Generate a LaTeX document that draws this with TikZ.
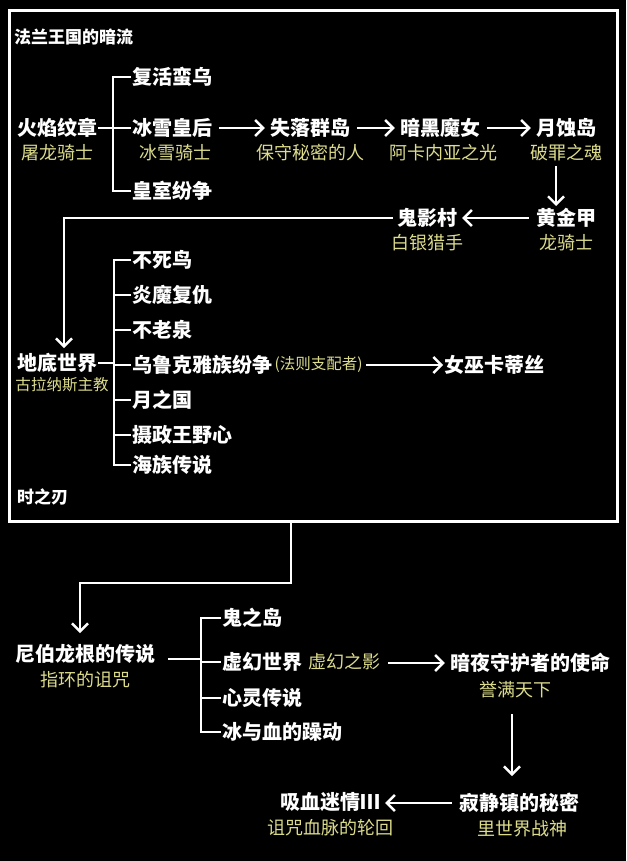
\documentclass[tikz,border=0pt]{standalone}
\usepackage{fontspec}
\setmainfont{Noto Sans CJK SC}
\usetikzlibrary{arrows.meta}
\definecolor{sub}{HTML}{DCDC8C}
\begin{document}
\begin{tikzpicture}[x=1pt,y=-1pt,
  m/.style={text=white,font=\fontsize{20}{22}\selectfont\bfseries,inner sep=1pt},
  ml/.style={m,anchor=west},
  s/.style={text=sub,font=\fontsize{18}{20}\selectfont,inner sep=1pt},
  ss/.style={text=sub,font=\fontsize{15.5}{17}\selectfont,inner sep=1pt},
  t/.style={text=white,font=\fontsize{17}{19}\selectfont\bfseries,anchor=west,inner sep=0pt},
  ln/.style={white,line width=2.4pt},
  ar/.style={ln,-{Straight Barb[length=8pt,width=16pt]}}]
\fill[black] (0,0) rectangle (626,861);
\useasboundingbox (0,0) rectangle (626,861);
\draw[white,line width=3pt] (9,11) rectangle (617,521);
\node[t] (title) at (14,37) {法兰王国的暗流};
\node[t] (blade) at (17,497) {时之刃};
% row 1
\node[m] (a) at (57,128) {火焰纹章};
\node[s] (as) at (57,153) {屠龙骑士};
\node[ml] (b1) at (131,77) {复活蛮乌};
\node[ml] (b2) at (131,128) {冰雪皇后};
\node[s] (b2s) at (175,153) {冰雪骑士};
\node[ml] (b3) at (131,191) {皇室纷争};
\coordinate (k1) at (113,128);
\draw[ln] (a.east) -- (k1);
\draw[ln] (b1.west) -- (113,77) -- (113,191) -- (b3.west);
\draw[ln] (k1) -- (b2.west);
\node[m] (c) at (310,128) {失落群岛};
\node[s] (cs) at (310,153) {保守秘密的人};
\node[m] (d) at (440,128) {暗黑魔女};
\node[s] (ds) at (443,153) {阿卡内亚之光};
\node[m] (e) at (566,128) {月蚀岛};
\node[s] (es) at (566,153) {破罪之魂};
\draw[ar] (b2.east)+(6,0) -- ([xshift=-4pt]c.west);
\draw[ar] (c.east)+(6,0) -- ([xshift=-4pt]d.west);
\draw[ar] (d.east)+(6,0) -- ([xshift=-4pt]e.west);
\node[m] (f) at (566,218) {黄金甲};
\node[s] (fs) at (566,243) {龙骑士};
\draw[ar] (556,166) -- (556,206);
\node[m] (g) at (427,218) {鬼影村};
\node[s] (gs) at (427,243) {白银猎手};
\draw[ar] ([xshift=-6pt]f.west) -- ([xshift=4pt]g.east);
\node[m] (h) at (57,363) {地底世界};
\node[ss] (hs) at (62,385) {古拉纳斯主教};
\draw[ar] ([xshift=-3pt]g.west) -- (64,218) -- (64,348);
% bracket 2
\node[ml] (i1) at (131,260) {不死鸟};
\node[ml] (i2) at (131,295) {炎魔复仇};
\node[ml] (i3) at (131,330) {不老泉};
\node[ml] (i4) at (131,365) {乌鲁克雅族纷争};
\node[ss,anchor=west] (i4s) at (i4.east) {(法则支配者)};
\node[ml] (i5) at (131,400) {月之国};
\node[ml] (i6) at (131,435) {摄政王野心};
\node[ml] (i7) at (131,465) {海族传说};
\draw[ln] (i1.west) -- (114,260) -- (114,465) -- (i7.west);
\draw[ln] (h.east) -- (114,363);
\foreach \n in {i2,i3,i4,i5,i6} \draw[ln] (114,0|-\n.west) -- (\n.west);
\node[ml] (j) at (443,365) {女巫卡蒂丝};
\draw[ar] ([xshift=2pt]i4s.east) -- (j.west);
% lower
\node[m] (k) at (85,654) {尼伯龙根的传说};
\node[s] (ks) at (85,680) {指环的诅咒};
\draw[ar] (291,521) -- (291,583) -- (80,583) -- (80,633);
\node[ml] (l1) at (221,618) {鬼之岛};
\node[ml] (l2) at (221,662) {虚幻世界};
\node[s,anchor=west] (l2s) at ([xshift=4pt]l2.east) {虚幻之影};
\node[ml] (l3) at (221,698) {心灵传说};
\node[ml] (l4) at (221,732) {冰与血的躁动};
\draw[ln] (168,659) -- (200,659);
\draw[ln] (l1.west) -- (201,618) -- (201,732) -- (l4.west);
\draw[ln] (201,662) -- (l2.west);
\draw[ln] (201,698) -- (l3.west);
\node[m] (n) at (530,663) {暗夜守护者的使命};
\node[s] (ns) at (515,690) {誉满天下};
\draw[ar] ([xshift=6pt]l2s.east |- n.west) -- ([xshift=-4pt]n.west);
\node[m] (o) at (519,803) {寂静镇的秘密};
\node[s] (os) at (522,829) {里世界战神};
\draw[ar] (512,714) -- (512,776);
\node[m] (p) at (330,802) {吸血迷情Ⅲ};
\node[s] (ps) at (330,828) {诅咒血脉的轮回};
\draw[ar] ([xshift=-6pt]o.west) -- ([xshift=4pt]p.east |- o.west);
\end{tikzpicture}
\end{document}
